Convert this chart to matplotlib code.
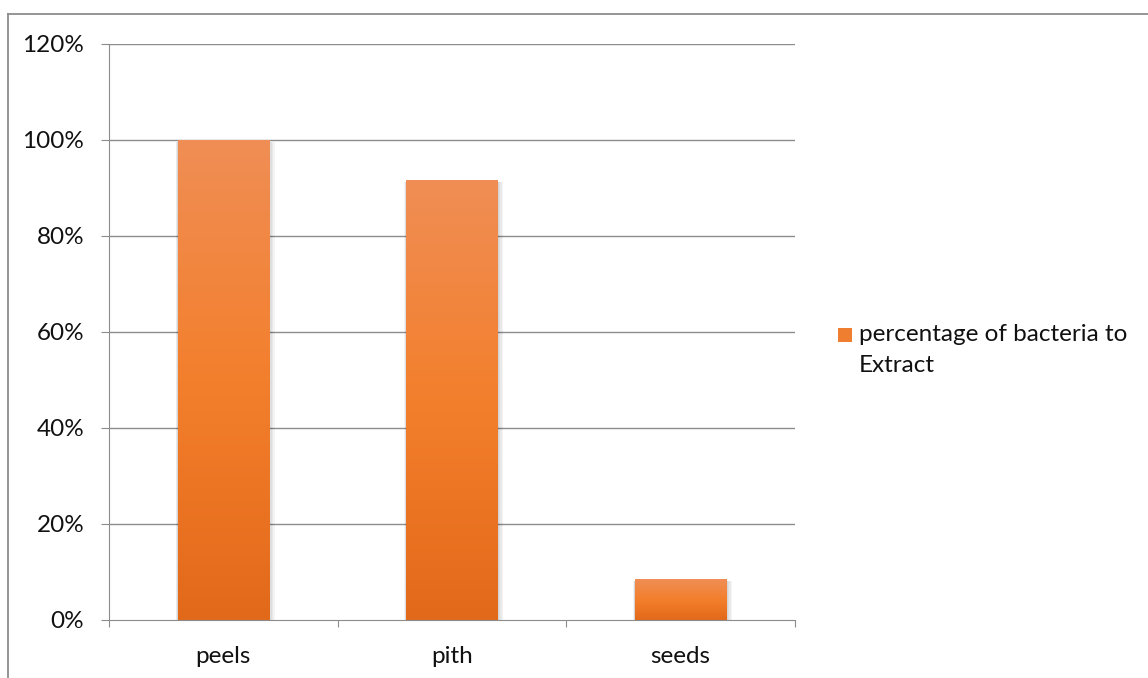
import numpy as np
import matplotlib
matplotlib.use("Agg")
import matplotlib.pyplot as plt
from matplotlib.colors import LinearSegmentedColormap
from matplotlib.patches import Rectangle
from matplotlib.lines import Line2D

categories = ["peels", "pith", "seeds"]
values = [1.00, 0.917, 0.085]
series_name = "percentage of bacteria to\nExtract"
y_ticks = [0, 0.2, 0.4, 0.6, 0.8, 1.0, 1.2]
y_labels = ["0%", "20%", "40%", "60%", "80%", "100%", "120%"]

plt.rcParams["font.family"] = ["Lato", "DejaVu Sans"]

W, H = 1148, 678
FS = 17.5
fig = plt.figure(figsize=(W / 100, H / 100), dpi=100)
ax = fig.add_axes([109 / W, 1 - 620 / H, (795 - 109) / W, (620 - 44) / H])

grid_c = "#8c8c8c"
text_c = "#111111"

# outer chart frame (left and top edges)
fig.add_artist(Line2D([8 / W, 8 / W], [0, 1 - 14 / H], color="#8c8c8c", lw=1.3))
fig.add_artist(Line2D([8 / W, 1], [1 - 14 / H, 1 - 14 / H], color="#8c8c8c", lw=1.3))

ax.set_xlim(0, 3)
ax.set_ylim(0, 1.2)

# gridlines
for t in y_ticks[1:]:
    ax.axhline(t, color=grid_c, lw=1.0, zorder=0)

grad = LinearSegmentedColormap.from_list(
    "orange_grad", ["#e3691a", "#f37f2c", "#f08e55"])
bar_w = 0.4
for i, v in enumerate(values):
    x0 = i + 0.5 - bar_w / 2
    # soft drop shadow along the sides
    for k in range(4):
        d = 0.005 * (k + 1)
        ax.add_patch(Rectangle((x0 - d * 0.4, 0), bar_w + d * 1.6, v - 0.004,
                               facecolor="black", alpha=0.045, lw=0, zorder=2))
    rect = Rectangle((x0, 0), bar_w, v, facecolor="none", lw=0, zorder=3)
    ax.add_patch(rect)
    img = ax.imshow(np.linspace(0, 1, 256).reshape(-1, 1), cmap=grad,
                    extent=(x0, x0 + bar_w, 0, v), origin="lower",
                    aspect="auto", zorder=3, interpolation="bilinear")
    img.set_clip_path(rect)

ax.set_xlim(0, 3)
ax.set_ylim(0, 1.2)

for s in ["top", "right"]:
    ax.spines[s].set_visible(False)
ax.spines["left"].set_color(grid_c)
ax.spines["bottom"].set_color(grid_c)
ax.spines["left"].set_zorder(4)
ax.spines["bottom"].set_zorder(4)

ax.set_yticks(y_ticks)
ax.set_yticklabels(y_labels)
ax.set_xticks([0, 1, 2, 3])
ax.set_xticklabels([])
ax.set_xticks([0.5, 1.5, 2.5], minor=True)
ax.set_xticklabels(categories, minor=True)
ax.tick_params(axis="x", which="major", length=5, color=grid_c, direction="out")
ax.tick_params(axis="x", which="minor", length=0, pad=19, labelsize=FS, labelcolor=text_c)
ax.tick_params(axis="y", length=5.8, color=grid_c, direction="out", pad=12,
               labelsize=FS, labelcolor=text_c)

# legend
fig.add_artist(Rectangle((838 / W, 1 - 342 / H), 14 / W, 14 / H,
                         transform=fig.transFigure, facecolor="#f07e30", lw=0))
fig.text(859 / W, 1 - 324 / H, series_name, fontsize=FS, color=text_c,
         va="top", ha="left", linespacing=1.6, transform=fig.transFigure)

fig.savefig("out.png", dpi=100)
